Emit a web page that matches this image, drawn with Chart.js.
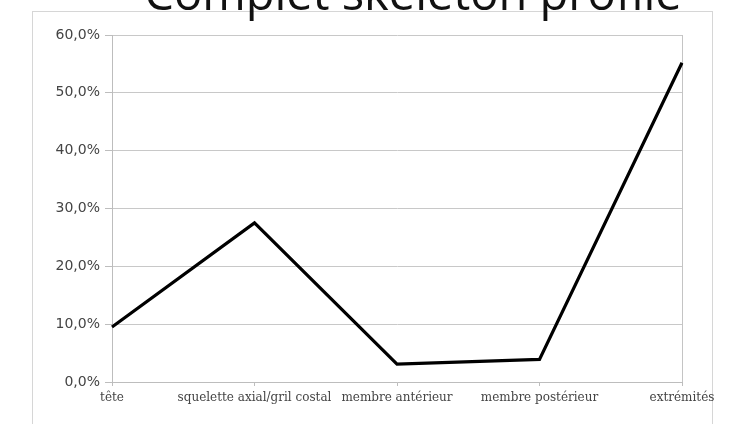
<!DOCTYPE html>
<html>
<head>
<meta charset="utf-8">
<script src="https://cdn.jsdelivr.net/npm/chart.js@4/dist/chart.umd.min.js"></script>
<style>
  html, body { margin: 0; padding: 0; background: #fff; overflow: hidden; }
  #wrap { position: relative; width: 731px; height: 424px; overflow: hidden; }
  #frame { position: absolute; left: 32px; top: 11px; width: 681px; height: 430px; border: 1px solid #d6d6d6; box-sizing: border-box; }
  #title { position: absolute; left: 0; width: 826px; top: -31px; text-align: center; font-family: "Open Sans", sans-serif; font-size: 47px; line-height: 47px; color: #111; white-space: nowrap; z-index: 2; }
  canvas { position: absolute; left: 0; top: 0; z-index: 1; }
</style>
</head>
<body>
<div id="wrap">
  <div id="frame"></div>
  <canvas id="c" width="731" height="424"></canvas>
  <div id="title">Complet skeleton profile</div>
</div>
<script>
const categories = ["tête", "squelette axial/gril costal", "membre antérieur", "membre postérieur", "extrémités"];
const values = [9.5, 27.5, 3.1, 3.9, 55.2];
const yTicks = [0, 10, 20, 30, 40, 50, 60];

const fmt = v => v.toFixed(1).replace('.', ',') + '%';

new Chart(document.getElementById('c'), {
  type: 'line',
  data: {
    labels: categories,
    datasets: [{
      data: values,
      borderColor: '#000',
      borderWidth: 3.2,
      pointRadius: 0,
      tension: 0,
      fill: false
    }]
  },
  options: {
    responsive: false,
    animation: false,
    devicePixelRatio: 1,
    layout: { padding: { left: 32, right: 49, top: 35, bottom: 0 } },
    plugins: { legend: { display: false }, tooltip: { enabled: false }, title: { display: false } },
    scales: {
      x: {
        offset: false,
        grid: {
          drawOnChartArea: true,
          color: ctx => (ctx.index === 0 || ctx.index === categories.length - 1) ? '#c4c4c4' : 'rgba(0,0,0,0)',
          tickColor: '#bdbdbd',
          tickLength: 4
        },
        border: { display: true, color: '#bdbdbd' },
        ticks: {
          autoSkip: false,
          maxRotation: 0,
          padding: 5,
          color: '#444',
          font: { family: 'DejaVu Serif', size: 12 }
        },
        afterFit: s => { s.height = 42; s.paddingLeft = 0; s.paddingRight = 0; }
      },
      y: {
        min: 0,
        max: 60,
        afterBuildTicks: s => { s.ticks = yTicks.map(v => ({ value: v })); },
        grid: { color: '#c8c8c8', tickColor: '#bdbdbd', tickLength: 7 },
        border: { display: true, color: '#bdbdbd' },
        ticks: {
          padding: 5,
          color: '#444',
          font: { family: 'DejaVu Sans', size: 14 },
          callback: v => fmt(v)
        },
        afterFit: s => { s.width = 80; s.paddingTop = 0; s.paddingBottom = 0; }
      }
    }
  }
});
</script>
</body>
</html>
